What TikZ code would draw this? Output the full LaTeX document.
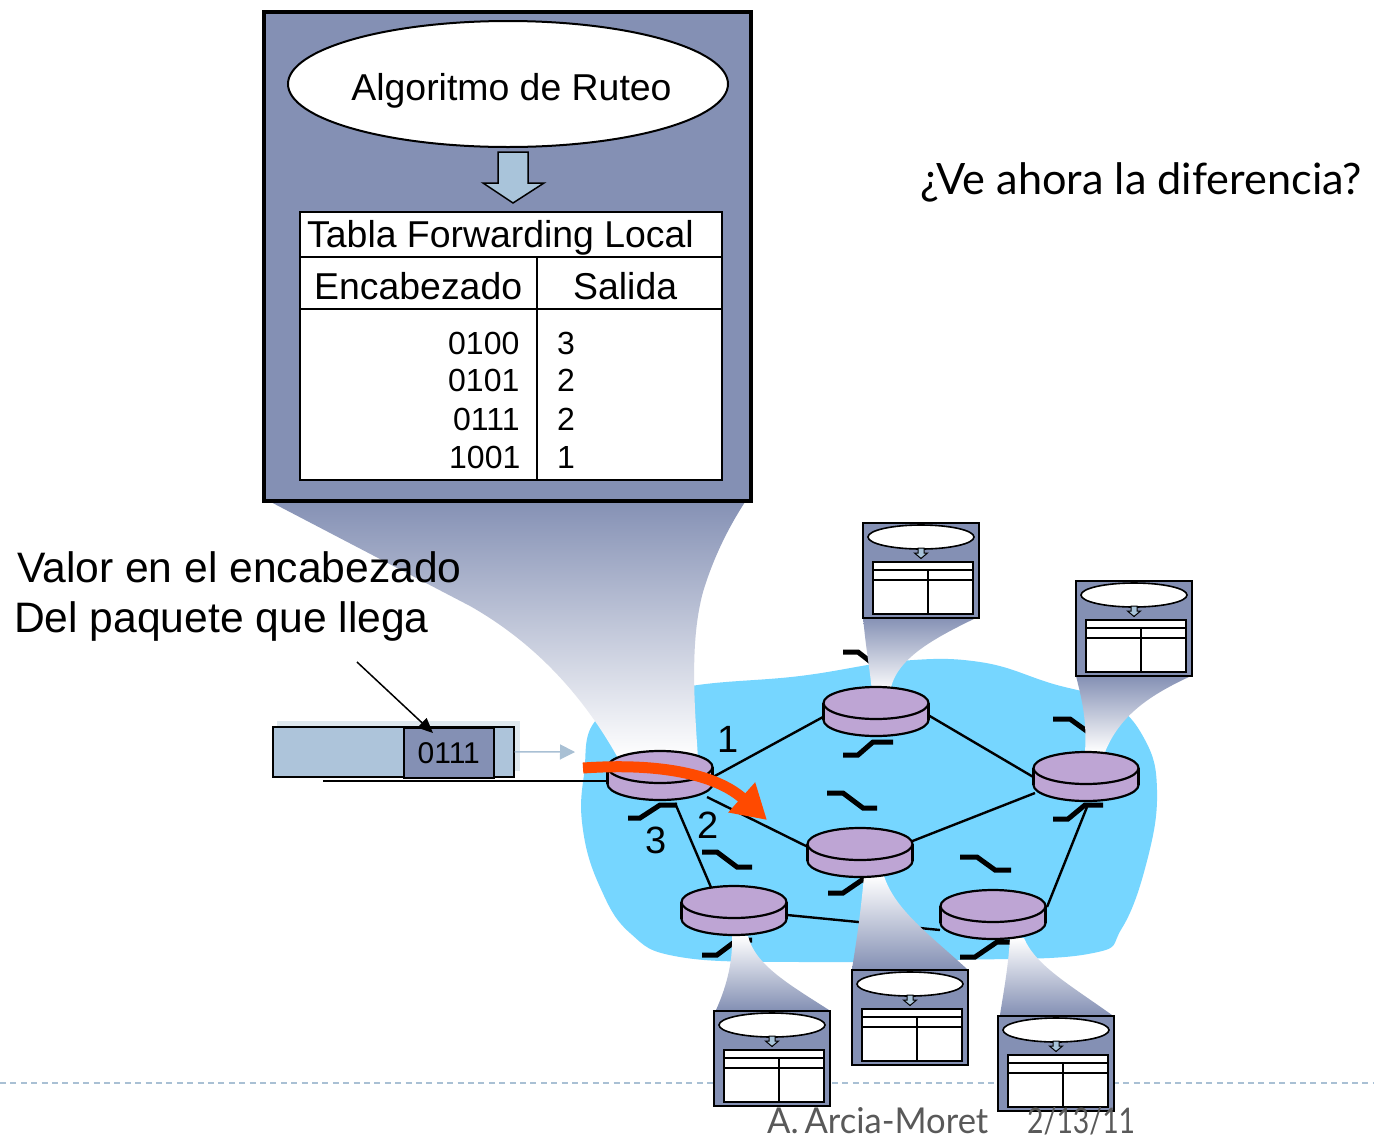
\documentclass[tikz,border=0pt]{standalone}
\usepackage{fontspec}
\usepackage{graphicx}
\setmainfont{Liberation Sans}
\newfontfamily\humanist{Lato}
\usetikzlibrary{arrows.meta,shapes.geometric,calc}

\definecolor{boxfill}{HTML}{8490B4}
\definecolor{routerfill}{HTML}{BEA5D4}
\definecolor{cloudblue}{HTML}{76D6FF}
\definecolor{packetfill}{HTML}{ADC4DA}
\definecolor{blockarrow}{HTML}{A9C4DA}
\definecolor{packetshadow}{HTML}{DFE8EE}
\definecolor{flow}{HTML}{FF4A00}
\definecolor{rulecolor}{HTML}{A9C0D4}
\definecolor{footgray}{HTML}{595959}

% router: name, x, y of the centre of its top face
\newcommand\routerat[3]{%
  \fill[routerfill,draw=black,line width=2.2pt] (#2,#3+17) ellipse [x radius=52.5,y radius=16];
  \fill[routerfill] (#2-52.5,#3) rectangle (#2+52.5,#3+17);
  \draw[line width=2.2pt] (#2-52.5,#3) -- (#2-52.5,#3+17) (#2+52.5,#3) -- (#2+52.5,#3+17);
  \node[routertop] (#1) at (#2,#3) {};}

% miniature routing box: name, x, y of its top-left corner
\newcommand\minitable[3]{%
  \node[draw,line width=2.4pt,fill=boxfill,anchor=north west,minimum width=116pt,minimum height=95pt,inner sep=0pt] (#1) at (#2,#3) {};
  \node[ellipse,draw,fill=white,line width=1.6pt,minimum width=106pt,minimum height=24pt,inner sep=0pt] (#1-algo) at (#2+59,#3+15) {};
  \filldraw[fill=blockarrow,line width=1pt] (#2+56,#3+26) -- (#2+62,#3+26) -- (#2+62,#3+31) -- (#2+65.5,#3+31) -- (#2+59,#3+36.5) -- (#2+52.5,#3+31) -- (#2+56,#3+31) -- cycle;
  \node[draw,fill=white,line width=1.8pt,anchor=north west,minimum width=100pt,minimum height=52pt,inner sep=0pt] (#1-tab) at (#2+10,#3+39) {};
  \draw[line width=1.8pt] (#2+10,#3+48) -- +(100,0) (#2+10,#3+58) -- +(100,0) (#2+66,#3+48) -- (#2+66,#3+91);}

\begin{document}
\begin{tikzpicture}[x=1pt,y=-1pt,
  big/.style={inner sep=0pt,font=\fontsize{37.4}{44}\selectfont},
  digits/.style={inner sep=0pt,font=\fontsize{32}{38}\selectfont},
  port/.style={inner sep=0pt,font=\fontsize{38}{45}\selectfont},
  caption/.style={inner sep=0pt,anchor=base west,font=\fontsize{42.6}{50}\selectfont},
  link/.style={line width=2.4pt},
  squig/.style={line width=5pt,line join=miter,line cap=butt},
  routertop/.style={ellipse,draw,fill=routerfill,line width=2.2pt,minimum width=105pt,minimum height=32pt,inner sep=0pt},
  funnel down/.style={top color=boxfill,bottom color=white},
  funnel up/.style={top color=white,bottom color=boxfill},
]
\useasboundingbox (0,0) rectangle (1374,1136);
\fill[white] (0,0) rectangle (1374,1136);

% slide footer rule
\draw[rulecolor,line width=2pt,dash pattern=on 6pt off 4.4pt] (0,1083) -- (1374,1083);

% network cloud
\fill[cloudblue] plot[smooth cycle,tension=0.7] coordinates {(600,716) (680,688) (800,676) (900,661) (980,662) (1050,683) (1110,702) (1145,740) (1157,790) (1148,857) (1122,928) (1088,954) (950,960) (800,962) (680,957) (630,933) (600,887) (583,830) (584,775)};

% router positions (centre of the top face)
\coordinate (p1) at (660,767);
\coordinate (p2) at (876,703);
\coordinate (p3) at (860,844);
\coordinate (p4) at (734,902);
\coordinate (p5) at (1086,768);
\coordinate (p6) at (993,906);

% links
\draw[link] ($(p1)+(53,10)$) -- ($(p2)+(-53,14)$);
\draw[link] ($(p1)+(47,30)$) -- ($(p3)+(-52,3)$);
\draw[link] ($(p1)+(15,36)$) -- ($(p4)+(-21,-10)$);
\draw[link] ($(p2)+(52,12)$) -- ($(p5)+(-51,10)$);
\draw[link] ($(p3)+(50,-2)$) -- ($(p5)+(-51,25)$);
\draw[link] ($(p4)+(53,13)$) -- ($(p6)+(-53,24)$);
\draw[link] ($(p6)+(54,1)$) -- ($(p5)+(1,39)$);

% incoming wire
\coordinate (wire) at (323,781);
\draw[line width=1.5pt] (wire) -- ($(p1)+(-50,14)$);

% link symbols
\draw[squig] (628,718) -- (643,718) -- (663,732) -- (678,732);
\draw[squig] (843,652) -- (858,652) -- (876,666) -- (890,666);
\draw[squig] (827,793) -- (843,793) -- (863,808) -- (877,808);
\draw[squig] (702,852) -- (717,852) -- (737,867) -- (752,867);
\draw[squig] (960,857) -- (977,857) -- (995,870) -- (1011,870);
\draw[squig] (1053,719) -- (1070,719) -- (1088,732) -- (1100,732);
\draw[squig] (628,818) -- (640,818) -- (660,805) -- (677,805);
\draw[squig] (843,755) -- (858,755) -- (873,742) -- (893,742);
\draw[squig] (828,893) -- (843,893) -- (862,880) -- (880,880);
\draw[squig] (702,955) -- (717,955) -- (737,940) -- (752,940);
\draw[squig] (1053,819) -- (1068,819) -- (1085,805) -- (1103,805);
\draw[squig] (960,957) -- (975,957) -- (997,942) -- (1010,942);

% magnifying funnels
\shade[funnel down] (265,499) -- (470,606) .. controls (530,640) and (580,690) .. (618,758) -- (698,758) .. controls (694,700) and (690,640) .. (703,592) .. controls (715,552) and (733,520) .. (747,499) -- cycle;
\shade[funnel down] (863,617) .. controls (866,650) and (870,670) .. (872,692) -- (890,692) .. controls (895,660) and (930,640) .. (978,617) -- cycle;
\shade[funnel down] (1076,676) .. controls (1082,700) and (1087,720) .. (1085,752) -- (1105,752) .. controls (1120,715) and (1150,695) .. (1191,676) -- cycle;
\shade[funnel up] (732,936) .. controls (733,965) and (725,990) .. (716,1010) -- (829,1010) .. controls (790,985) and (755,965) .. (748,936) -- cycle;
\shade[funnel up] (864,876) .. controls (860,920) and (855,950) .. (852,969) -- (967,969) .. controls (930,935) and (895,910) .. (884,876) -- cycle;
\shade[funnel up] (1010,938) .. controls (1008,970) and (1003,995) .. (1000,1015) -- (1112,1015) .. controls (1070,985) and (1035,965) .. (1024,938) -- cycle;

% routers
\routerat{r1}{660}{767}
\routerat{r2}{876}{703}
\routerat{r3}{860}{844}
\routerat{r4}{734}{902}
\routerat{r5}{1086}{768}
\routerat{r6}{993}{906}

% output port numbers
\node[port,anchor=base west] (port1) at (717,752) {1};
\node[port,anchor=base west] (port2) at (697,838) {2};
\node[port,anchor=base west] (port3) at (645,853) {3};

% forwarding decision
\coordinate (flowstart) at (583,768);
\coordinate (flowend) at (767,820);
\draw[flow,line width=11pt,-{Triangle[length=34pt,width=38pt]}] (flowstart) .. controls (670,762) and (720,778) .. (flowend);

% arriving packet
\fill[packetshadow] (277,721) rectangle (520,771);
\node[draw,line width=1.5pt,fill=packetfill,anchor=north west,minimum width=241pt,minimum height=50pt,inner sep=0pt] (packet) at (272,726) {};
\node[draw,line width=1.5pt,fill=boxfill,anchor=north west,minimum width=90pt,minimum height=50pt,inner sep=0pt,font=\fontsize{30}{36}\selectfont] (hdr) at (403,727) {0111};
\coordinate (inlet) at (575,752);
\draw[rulecolor,line width=1.5pt,-{Triangle[length=15pt,width=15pt]}] (packet.east) -- (inlet);
\coordinate (callout) at (357,662);
\coordinate (hdrtip) at (433,733);
\draw[line width=1.5pt,-{Triangle[length=15pt,width=13pt]}] (callout) -- (hdrtip);

% enlarged router internals
\node[draw,line width=4pt,fill=boxfill,anchor=north west,minimum width=487pt,minimum height=489pt,inner sep=0pt] (mainbox) at (262,10) {};
\node[ellipse,draw,fill=white,line width=2pt,minimum width=440pt,minimum height=126pt,inner sep=0pt] (algo) at (508,84) {};
\node[big,anchor=base] (algotext) at (511.5,100) {Algoritmo de Ruteo};
\filldraw[fill=blockarrow,line width=1.5pt] (498,152) -- (528,152) -- (528,183) -- (544,183) -- (513,203) -- (483,183) -- (498,183) -- cycle;
\node[draw,fill=white,line width=2pt,anchor=north west,minimum width=422pt,minimum height=268pt,inner sep=0pt] (ftable) at (299,211) {};
\draw[line width=2pt] (299,257) -- (721,257) (299,309) -- (721,309) (537,257) -- (537,479);
\node[big,anchor=base west] (tabtitle) at (307,247) {Tabla Forwarding Local};
\node[big,anchor=base west] (colA) at (314,299) {Encabezado};
\node[big,anchor=base west] (colB) at (573,299) {Salida};
\node[digits,anchor=base west] (k1) at (448,354) {0100};
\node[digits,anchor=base west] (k2) at (448,391) {0101};
\node[digits,anchor=base west] (k3) at (453,430) {0111};
\node[digits,anchor=base west] (k4) at (449,468) {1001};
\node[digits,anchor=base west] (v1) at (557,354) {3};
\node[digits,anchor=base west] (v2) at (557,391) {2};
\node[digits,anchor=base west] (v3) at (557,430) {2};
\node[digits,anchor=base west] (v4) at (557,468) {1};

% routing boxes of the other routers
\minitable{t2}{862}{522}
\minitable{t5}{1075}{580}
\minitable{t4}{713}{1010}
\minitable{t3}{851}{969}
\minitable{t6}{997}{1015}

% captions
\node[caption] (valor1) at (17,582) {Valor en el encabezado};
\node[caption] (valor2) at (14,632) {Del paquete que llega};
\node[inner sep=0pt,anchor=base west] (question) at (920,194) {\resizebox{442pt}{!}{\humanist\fontsize{34}{40}\selectfont ¿Ve ahora la diferencia?}};
\node[inner sep=0pt,anchor=base west,text=footgray] (author) at (767,1133) {\resizebox{221pt}{26pt}{\humanist\fontsize{36}{42}\selectfont A.\,Arcia-Moret}};
\node[inner sep=0pt,anchor=base west,text=footgray] (date) at (1027,1133) {\resizebox{108pt}{26pt}{\humanist\fontsize{36}{42}\selectfont 2/13/11}};
\end{tikzpicture}
\end{document}
